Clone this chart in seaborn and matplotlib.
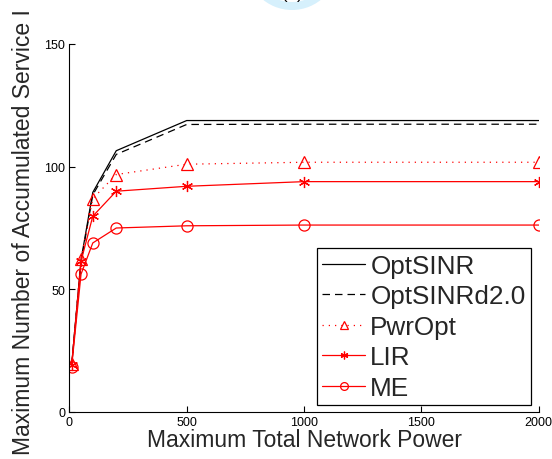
import matplotlib
matplotlib.use("Agg")
import matplotlib.pyplot as plt
from matplotlib.patches import Wedge
from matplotlib.transforms import IdentityTransform
import seaborn as sns
import pandas as pd

# ---- data ----
power = [10, 50, 100, 200, 500, 1000, 2000]
opt_sinr = [19.0, 62.0, 89.5, 106.5, 118.8, 118.8, 118.8]
opt_sinr_d20 = [19.0, 61.0, 88.5, 105.0, 117.2, 117.3, 117.3]
pwr_opt = [19.5, 62.4, 87.0, 96.8, 101.0, 101.8, 101.8]
lir = [19.0, 61.5, 79.8, 90.0, 92.0, 93.9, 93.9]
me = [18.5, 56.2, 68.9, 75.0, 75.9, 76.2, 76.2]

series_names = ["OptSINR", "OptSINRd2.0", "PwrOpt", "LIR", "ME"]
series_values = [opt_sinr, opt_sinr_d20, pwr_opt, lir, me]
x_ticks = [0, 500, 1000, 1500, 2000]
y_ticks = [0, 50, 100, 150]

sns.set_style("ticks")
plt.rcParams["font.family"] = ["Liberation Sans", "DejaVu Sans"]

fig = plt.figure(figsize=(5.52, 4.60), dpi=100)
ax = fig.add_axes([69.3 / 552, 47 / 460, 469.5 / 552, 368 / 460])

styles = {
    "OptSINR": dict(color="black", linestyle="-", marker=None),
    "OptSINRd2.0": dict(color="black", linestyle=(0, (6, 4)), marker=None),
    "PwrOpt": dict(color="#ff0000", linestyle=(0, (1, 4)), marker="^", markersize=9),
    "LIR": dict(color="#ff0000", linestyle="-", marker=(6, 2, 0), markersize=8),
    "ME": dict(color="#ff0000", linestyle="-", marker="o", markersize=8),
}

for name, vals in zip(series_names, series_values):
    df = pd.DataFrame({"power": power, "value": vals})
    st = styles[name]
    kw = dict(color=st["color"], linestyle=st["linestyle"], linewidth=0.9)
    if st["marker"] is not None:
        kw.update(marker=st["marker"], markersize=st["markersize"],
                  markerfacecolor="none", markeredgecolor=st["color"],
                  markeredgewidth=0.9)
    sns.lineplot(data=df, x="power", y="value", ax=ax, label=name, **kw)

ax.set_xlim(0, 2000)
ax.set_ylim(0, 150)
ax.set_xticks(x_ticks)
ax.set_yticks(y_ticks)
ax.tick_params(direction="in", length=4, width=0.8, labelsize=9, pad=3,
               colors="black")
sns.despine(ax=ax)
for sp in ("left", "bottom"):
    ax.spines[sp].set_linewidth(0.8)
    ax.spines[sp].set_color("black")

ax.set_xlabel("Maximum Total Network Power", fontsize=16.5, labelpad=0)
ax.set_ylabel("Maximum Number of Accumulated Service I", fontsize=16.5)
ax.yaxis.set_label_coords(-0.073, 0.493)

leg = ax.legend(loc="lower right", bbox_to_anchor=(0.983, 0.019),
                borderaxespad=0, fontsize=18.8, frameon=True, fancybox=False,
                edgecolor="black", framealpha=1, labelspacing=0.25,
                handlelength=1.65, handletextpad=0.2, borderpad=0.2,
                numpoints=1, markerscale=0.7)
leg.get_frame().set_linewidth(0.9)

# faint watermark and caption clipped at the top of the page
fig.add_artist(Wedge((292, 495), 46, 0, 360, width=8, facecolor="#d6f0fc",
                     edgecolor="none", transform=IdentityTransform()))
fig.text(292 / 552, 1.0 + 6 / 460, "(a)", ha="center", va="center",
         fontsize=12, color="black")

fig.savefig("out.png", dpi=100)
